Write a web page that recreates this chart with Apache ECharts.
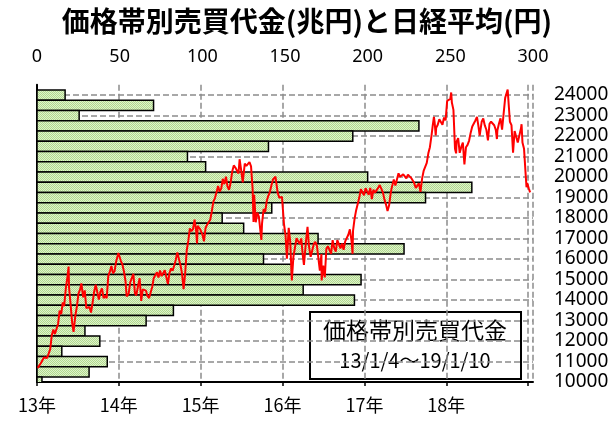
<!DOCTYPE html>
<html>
<head>
<meta charset="utf-8">
<script src="https://cdn.jsdelivr.net/npm/echarts@6/dist/echarts.min.js"></script>
<style>
  html, body { margin: 0; padding: 0; background: #fff; }
  #main { width: 614px; height: 423px; }
</style>
</head>
<body>
<div id="main"></div>
<script>
// 価格帯 (円) と売買代金 (兆円)
var priceBands = [24000, 23500, 23000, 22500, 22000, 21500, 21000, 20500, 20000, 19500,
  19000, 18500, 18000, 17500, 17000, 16500, 16000, 15500, 15000, 14500,
  14000, 13500, 13000, 12500, 12000, 11500, 11000, 10500, 10000];
var tradeValues = [17, 70.5, 25.5, 231, 191, 140, 91, 102, 200, 263,
  235, 142, 112, 125, 170, 222, 137, 154, 196, 161,
  192, 82.5, 66, 29, 38, 15, 42.5, 31.5, 3];

// 日経平均 (円)
var nikkeiDates = [
  '2013-01-04','2013-01-11','2013-01-18','2013-01-25','2013-02-01','2013-02-08','2013-02-15','2013-02-22',
  '2013-03-01','2013-03-08','2013-03-15','2013-03-22','2013-03-29','2013-04-05','2013-04-12','2013-04-19',
  '2013-04-26','2013-05-02','2013-05-10','2013-05-17','2013-05-22','2013-05-24','2013-05-31','2013-06-07',
  '2013-06-13','2013-06-21','2013-06-28','2013-07-05','2013-07-12','2013-07-18','2013-07-26','2013-08-02',
  '2013-08-09','2013-08-16','2013-08-23','2013-08-30','2013-09-06','2013-09-13','2013-09-20','2013-09-27',
  '2013-10-04','2013-10-11','2013-10-18','2013-10-25','2013-11-01','2013-11-08','2013-11-15','2013-11-22',
  '2013-11-29','2013-12-06','2013-12-13','2013-12-20','2013-12-30',
  '2014-01-10','2014-01-17','2014-01-24','2014-01-31','2014-02-05','2014-02-14','2014-02-21','2014-02-28',
  '2014-03-07','2014-03-14','2014-03-20','2014-03-28','2014-04-04','2014-04-11','2014-04-18','2014-04-25',
  '2014-05-02','2014-05-09','2014-05-16','2014-05-21','2014-05-30','2014-06-06','2014-06-13','2014-06-20',
  '2014-06-27','2014-07-04','2014-07-11','2014-07-18','2014-07-25','2014-08-01','2014-08-08','2014-08-15',
  '2014-08-22','2014-08-29','2014-09-05','2014-09-12','2014-09-19','2014-09-26','2014-10-03','2014-10-10',
  '2014-10-17','2014-10-24','2014-10-31','2014-11-07','2014-11-14','2014-11-21','2014-11-28','2014-12-05',
  '2014-12-12','2014-12-16','2014-12-19','2014-12-30',
  '2015-01-09','2015-01-16','2015-01-23','2015-01-30','2015-02-06','2015-02-13','2015-02-20','2015-02-27',
  '2015-03-06','2015-03-13','2015-03-20','2015-03-27','2015-04-03','2015-04-10','2015-04-17','2015-04-24',
  '2015-05-01','2015-05-08','2015-05-15','2015-05-22','2015-05-29','2015-06-05','2015-06-12','2015-06-19',
  '2015-06-24','2015-07-01','2015-07-08','2015-07-17','2015-07-24','2015-07-31','2015-08-07','2015-08-10',
  '2015-08-14','2015-08-21','2015-08-25','2015-08-28','2015-09-04','2015-09-11','2015-09-18','2015-09-29',
  '2015-10-02','2015-10-09','2015-10-16','2015-10-23','2015-10-30','2015-11-06','2015-11-13','2015-11-20',
  '2015-11-27','2015-12-01','2015-12-11','2015-12-18','2015-12-30',
  '2016-01-08','2016-01-15','2016-01-21','2016-01-29','2016-02-05','2016-02-12','2016-02-19','2016-02-26',
  '2016-03-04','2016-03-11','2016-03-18','2016-03-25','2016-04-01','2016-04-06','2016-04-15','2016-04-22',
  '2016-04-28','2016-05-06','2016-05-13','2016-05-20','2016-05-27','2016-06-03','2016-06-10','2016-06-16',
  '2016-06-23','2016-06-24','2016-07-01','2016-07-08','2016-07-15','2016-07-22','2016-07-29','2016-08-05',
  '2016-08-12','2016-08-19','2016-08-26','2016-09-02','2016-09-09','2016-09-16','2016-09-23','2016-09-30',
  '2016-10-07','2016-10-14','2016-10-21','2016-10-28','2016-11-04','2016-11-09','2016-11-11','2016-11-18',
  '2016-11-25','2016-12-02','2016-12-09','2016-12-16','2016-12-21','2016-12-30',
  '2017-01-06','2017-01-13','2017-01-20','2017-01-27','2017-02-03','2017-02-10','2017-02-17','2017-02-24',
  '2017-03-03','2017-03-10','2017-03-17','2017-03-24','2017-03-31','2017-04-07','2017-04-14','2017-04-21',
  '2017-04-28','2017-05-02','2017-05-12','2017-05-19','2017-05-26','2017-06-02','2017-06-09','2017-06-16',
  '2017-06-23','2017-06-30','2017-07-07','2017-07-14','2017-07-21','2017-07-28','2017-08-04','2017-08-10',
  '2017-08-18','2017-08-25','2017-09-01','2017-09-08','2017-09-15','2017-09-22','2017-09-29','2017-10-06',
  '2017-10-13','2017-10-20','2017-10-27','2017-11-02','2017-11-07','2017-11-10','2017-11-15','2017-11-17',
  '2017-11-24','2017-12-01','2017-12-08','2017-12-15','2017-12-22','2017-12-29',
  '2018-01-05','2018-01-12','2018-01-19','2018-01-23','2018-01-26','2018-02-02','2018-02-09','2018-02-14',
  '2018-02-16','2018-02-23','2018-03-02','2018-03-09','2018-03-16','2018-03-23','2018-03-30','2018-04-06',
  '2018-04-13','2018-04-20','2018-04-27','2018-05-02','2018-05-11','2018-05-18','2018-05-21','2018-05-25',
  '2018-05-30','2018-06-01','2018-06-08','2018-06-15','2018-06-22','2018-06-29','2018-07-06','2018-07-13',
  '2018-07-20','2018-07-27','2018-08-03','2018-08-10','2018-08-15','2018-08-17','2018-08-24','2018-08-31',
  '2018-09-07','2018-09-14','2018-09-21','2018-09-28','2018-10-02','2018-10-05','2018-10-12','2018-10-19',
  '2018-10-26','2018-11-02','2018-11-09','2018-11-16','2018-11-22','2018-11-30','2018-12-03','2018-12-07',
  '2018-12-14','2018-12-21','2018-12-25','2018-12-28',
  '2019-01-04','2019-01-10'
];
var nikkeiValues = [
  10688,10801,10913,10926,11191,11153,11173,11385,
  11606,12283,12560,12338,12397,12833,13485,13316,
  13884,13694,14607,15138,15627,14612,13774,12877,
  12445,13230,13677,14309,14506,14808,14129,14467,
  13605,13650,13660,13389,13860,14404,14742,14760,
  14024,14404,14561,14088,14201,14086,15165,15381,
  15661,15299,15403,15870,16291,
  15912,15734,15391,14914,14180,14313,14865,14841,
  15274,14327,14224,14696,15063,13960,14516,14429,
  14457,14199,14096,14043,14632,15077,15097,15349,
  15095,15437,15164,15215,15457,15523,14778,15318,
  15539,15425,15669,15948,16321,16229,15708,15300,
  14532,15291,16413,16880,17490,17357,17459,17920,
  17371,16756,17621,17450,
  17197,16864,17511,17674,17648,17913,18332,18797,
  18971,19254,19560,19285,19435,19907,19652,20020,
  19531,19379,19732,20264,20563,20460,20407,20174,
  20868,20329,19737,20650,20544,20585,20724,20808,
  20519,19435,17806,19136,17792,18264,18070,16930,
  17725,18438,18291,18825,19083,19265,19597,19879,
  19883,20012,19230,18986,19033,
  17697,17147,16017,17518,16819,14952,16110,16188,
  17014,16938,16724,17002,16164,15713,16848,17572,
  16666,16106,16412,16736,16834,16642,16601,15434,
  16238,14952,15682,15106,16497,16627,16569,16254,
  16919,16545,16360,16925,16965,16519,16754,16449,
  16860,16856,17184,17446,16905,16251,17374,17967,
  18381,18426,18996,19401,19494,19114,
  19454,19287,19137,19467,18918,19378,19234,19283,
  19469,19604,19521,19262,18909,18664,18336,18620,
  19196,19445,19883,19590,19686,20177,20013,19943,
  20132,20033,19929,20118,20099,19959,19952,19729,
  19470,19452,19691,19274,19909,20296,20356,20690,
  21155,21457,22008,22539,22937,22681,22028,22397,
  22550,22819,22811,22553,22902,22764,
  23714,23653,23808,24124,23631,23274,21382,21154,
  21720,21892,21182,21469,21676,20617,21454,21567,
  21778,22162,22467,22473,22758,22930,23002,22450,
  22018,22171,22694,22851,22516,22304,21788,22597,
  22697,22712,22525,22298,21851,22270,22601,22865,
  22307,23094,23869,24120,24270,23783,22694,22532,
  21184,22243,22250,21680,21646,22351,22574,21679,
  21374,20166,19500,19700,
  19450,19250
];

var chartTitle = '価格帯別売買代金(兆円)と日経平均(円)';
var boxLines = ['価格帯別売買代金', '13/1/4～19/1/10'];

var barData = priceBands.map(function (p, i) { return [tradeValues[i], p]; });
var lineData = nikkeiDates.map(function (d, i) { return [d, nikkeiValues[i]]; });

// 網点の塗り
var pat = document.createElement('canvas');
pat.width = 2; pat.height = 2;
var pc = pat.getContext('2d');
pc.fillStyle = '#def2cc'; pc.fillRect(0, 0, 2, 2);
pc.fillStyle = '#b2da8e'; pc.fillRect(0, 0, 1, 1); pc.fillRect(1, 1, 1, 1);

var numFont = 'Noto Sans';
var jpFont = 'Noto Sans CJK JP';
var gridLine = { show: true, lineStyle: { color: '#8c8c8c', width: 1.5, type: [6, 3] } };

var chart = echarts.init(document.getElementById('main'), null, { renderer: 'canvas' });
var option = {
  animation: false,
  backgroundColor: '#fff',
  title: {
    text: chartTitle,
    left: 'center',
    top: 2,
    textStyle: { fontFamily: jpFont, fontSize: 28, fontWeight: 'bold', color: '#000' }
  },
  grid: { left: 37, right: 81, top: 84.75, bottom: 41 },
  xAxis: [
    {
      type: 'time',
      position: 'bottom',
      min: '2013-01-01',
      max: '2019-01-23',
      minInterval: 365 * 86400000,
      maxInterval: 366 * 86400000,
      axisLine: { show: true, lineStyle: { color: '#000', width: 2 } },
      axisTick: { show: true, length: 4, lineStyle: { color: '#000', width: 1.5 } },
      axisLabel: {
        color: '#000', fontFamily: jpFont, fontSize: 18, margin: 14,
        formatter: function (val) {
          var y = new Date(val).getFullYear();
          if (y >= 2019) return '';
          return String(y).slice(2) + '年';
        }
      },
      splitLine: gridLine
    },
    {
      type: 'value',
      position: 'top',
      min: 0, max: 300, interval: 50,
      axisLine: { show: false },
      axisTick: { show: false },
      axisLabel: { color: '#000', fontFamily: numFont, fontSize: 18, margin: 19 },
      splitLine: { show: false }
    }
  ],
  yAxis: [
    {
      type: 'value',
      position: 'right',
      min: 10000, max: 24500, interval: 1000,
      axisLine: { show: false },
      axisTick: { show: false },
      axisLabel: {
        color: '#000', fontFamily: numFont, fontSize: 19, margin: 21, showMaxLabel: false,
        formatter: function (v) { return String(v); }
      },
      splitLine: { show: true, showMaxLine: false, lineStyle: gridLine.lineStyle }
    },
    {
      type: 'value',
      position: 'left',
      min: 10000, max: 24500,
      axisLine: { show: true, lineStyle: { color: '#000', width: 2 } },
      axisTick: { show: false },
      axisLabel: { show: false },
      splitLine: { show: false }
    }
  ],
  series: [
    {
      type: 'custom',
      xAxisIndex: 1,
      yAxisIndex: 0,
      clip: true,
      z: 2,
      data: barData,
      renderItem: function (params, api) {
        var v = api.value(0), p = api.value(1);
        var a = api.coord([0, p + 250]);
        var b = api.coord([v, p - 250]);
        return {
          type: 'rect',
          shape: { x: a[0], y: a[1], width: b[0] - a[0], height: b[1] - a[1] },
          style: { fill: { image: pat, repeat: 'repeat' }, stroke: '#000', lineWidth: 1.5 }
        };
      }
    },
    {
      type: 'line',
      xAxisIndex: 0,
      yAxisIndex: 0,
      z: 3,
      showSymbol: false,
      data: lineData,
      lineStyle: { color: '#ff0000', width: 2 }
    }
  ],
  graphic: [
    {
      type: 'group', left: 309, top: 311, z: 100,
      children: [
        { type: 'rect', shape: { x: 0, y: 0, width: 211, height: 67 },
          style: { fill: '#fff', stroke: '#000', lineWidth: 2 } },
        { type: 'text', x: 105, y: 18, style: { text: boxLines[0], fontFamily: jpFont, fontSize: 23,
          fill: '#000', textAlign: 'center', textVerticalAlign: 'middle' } },
        { type: 'text', x: 105, y: 48, style: { text: boxLines[1], fontFamily: jpFont, fontSize: 20,
          fill: '#000', textAlign: 'center', textVerticalAlign: 'middle' } }
      ]
    }
  ]
};
chart.setOption(option);
</script>
</body>
</html>
